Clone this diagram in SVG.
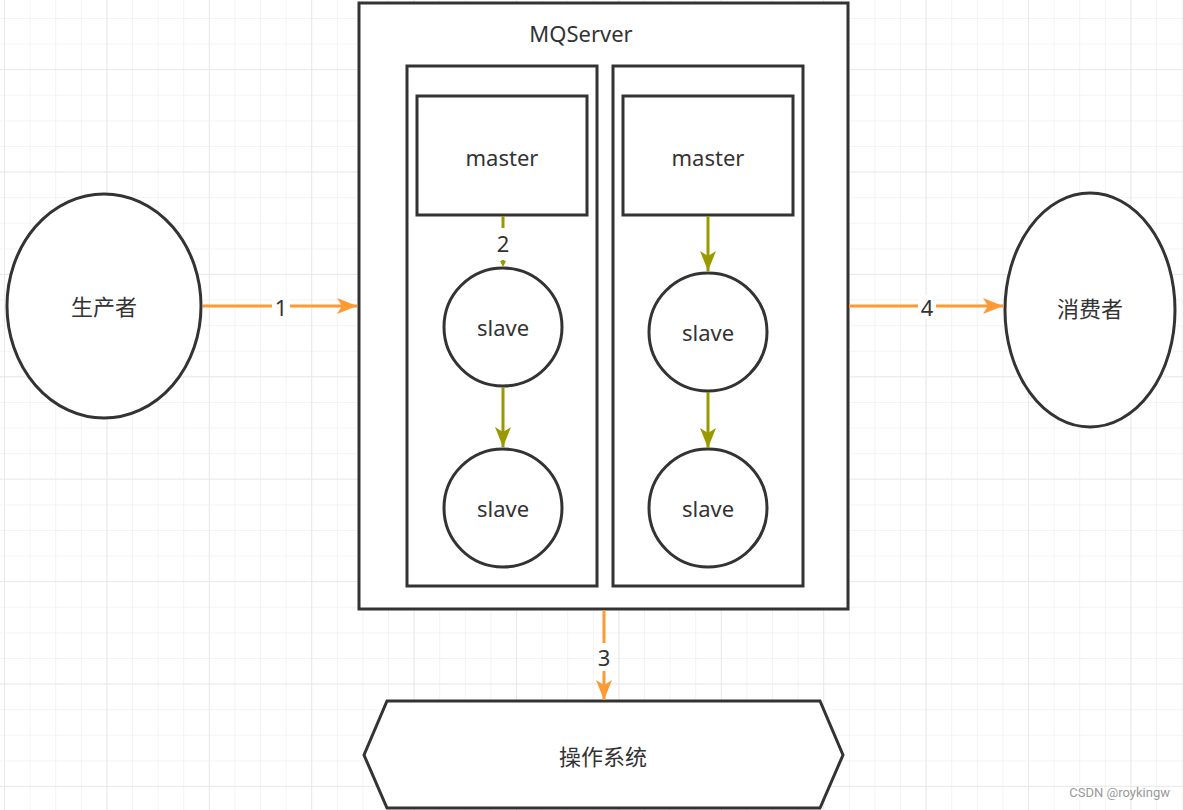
<svg xmlns="http://www.w3.org/2000/svg" width="1183" height="810" viewBox="0 0 1183 810">
<defs>
<pattern id="minor" x="4" y="18" width="25.6" height="25.6" patternUnits="userSpaceOnUse">
<path d="M0 0H25.6M0 0V25.6" fill="none" stroke="#f0f0f0" stroke-width="1.5"/>
</pattern>
<pattern id="major" x="4" y="69" width="102.4" height="102.4" patternUnits="userSpaceOnUse">
<path d="M0 0H102.4M0 0V102.4" fill="none" stroke="#e6e6e6" stroke-width="1.5"/>
</pattern>
<marker id="ao" viewBox="0 0 20 16" refX="20" refY="8" markerWidth="20" markerHeight="16" markerUnits="userSpaceOnUse" orient="auto">
<path d="M0 0L20 8L0 16L5 8Z" fill="#ff9933"/>
</marker>
<marker id="ag" viewBox="0 0 20 16" refX="20" refY="8" markerWidth="20" markerHeight="16" markerUnits="userSpaceOnUse" orient="auto">
<path d="M0 0L20 8L0 16L5 8Z" fill="#999900"/>
</marker>
<marker id="ags" viewBox="0 0 8 8" refX="8" refY="4" markerWidth="6" markerHeight="6" markerUnits="userSpaceOnUse" orient="auto">
<path d="M0 0L8 4L0 8Z" fill="#999900"/>
</marker>
</defs>
<style>
.s{fill:#fff;stroke:#333;stroke-width:3}
.t{font-family:"Noto Sans","Noto Sans CJK SC",sans-serif;font-size:22px;fill:#333;text-anchor:middle;dominant-baseline:central}
.o{fill:none;stroke:#ff9933;stroke-width:3}
.g{fill:none;stroke:#999900;stroke-width:3}
.lb{fill:#fff}
</style>
<rect width="1183" height="810" fill="#fff"/>
<rect width="1183" height="810" fill="url(#minor)"/>
<rect width="1183" height="810" fill="url(#major)"/>

<g id="mqserver">
<rect class="s" x="359" y="3" width="489" height="606"/>
<text class="t" x="581" y="33">MQServer</text>
</g>
<g id="col-left"><rect class="s" x="407" y="66" width="190" height="520"/></g>
<g id="col-right"><rect class="s" x="613" y="66" width="190" height="520"/></g>
<g id="master-left"><rect class="s" x="417" y="96" width="170" height="119"/><text class="t" x="502" y="157">master</text></g>
<g id="master-right"><rect class="s" x="623" y="96" width="170" height="119"/><text class="t" x="708" y="157">master</text></g>
<g id="slave-l1"><circle class="s" cx="503" cy="327" r="59"/><text class="t" x="503" y="327">slave</text></g>
<g id="slave-l2"><circle class="s" cx="503" cy="508" r="59"/><text class="t" x="503" y="508">slave</text></g>
<g id="slave-r1"><circle class="s" cx="708" cy="332" r="59"/><text class="t" x="708" y="332">slave</text></g>
<g id="slave-r2"><circle class="s" cx="708" cy="508" r="59"/><text class="t" x="708" y="508">slave</text></g>
<g id="producer"><ellipse class="s" cx="104" cy="306" rx="97" ry="112"/><text class="t" x="104" y="306">生产者</text></g>
<g id="consumer"><ellipse class="s" cx="1090" cy="310" rx="85" ry="117"/><text class="t" x="1090" y="308">消费者</text></g>
<g id="os"><path class="s" d="M387 701H820L843 755L820 808H387L364 755Z"/><text class="t" x="603" y="756">操作系统</text></g>

<g id="connectors">
<path class="o" d="M203 306H357" marker-end="url(#ao)"/>
<rect class="lb" x="272" y="295" width="18" height="24"/>
<text class="t" x="281" y="307">1</text>
<path class="o" d="M849 306H1003" marker-end="url(#ao)"/>
<rect class="lb" x="918" y="295" width="18" height="24"/>
<text class="t" x="927" y="307">4</text>
<path class="o" d="M604 610V700" marker-end="url(#ao)"/>
<rect class="lb" x="594" y="643" width="20" height="28"/>
<text class="t" x="604" y="657">3</text>
<path class="g" d="M503 216V267" stroke-dasharray="12 6" marker-end="url(#ags)"/>
<rect class="lb" x="494" y="228" width="18" height="32"/>
<text class="t" x="503" y="243">2</text>
<path class="g" d="M503 387V447" marker-end="url(#ag)"/>
<path class="g" d="M708 216V271" marker-end="url(#ag)"/>
<path class="g" d="M708 392V448" marker-end="url(#ag)"/>
</g>
<text x="1170" y="797" font-family="Roboto,'Liberation Sans',sans-serif" font-size="13" fill="#999" text-anchor="end">CSDN @roykingw</text>
</svg>
